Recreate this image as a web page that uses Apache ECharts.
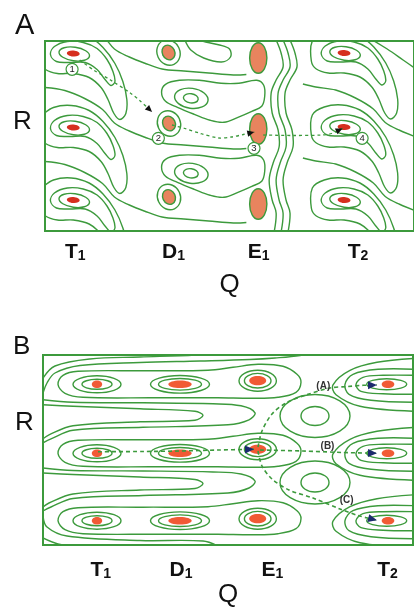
<!DOCTYPE html>
<html><head><meta charset="utf-8">
<script src="https://cdn.jsdelivr.net/npm/echarts@6.0.0/dist/echarts.min.js"></script>
<style>html,body{margin:0;padding:0;background:#fff}#chart{width:414px;height:612px}</style>
</head><body><div id="chart"></div>
<script>
const GREEN = '#3c9a3c';
const FONT = '"Liberation Sans", Arial, sans-serif';

// ================= Panel A (Q 0..372, R 0..190 measured downward) =================
const tickLabelsA = [['T','1'],['D','1'],['E','1'],['T','2']];
const tickQA = [30.5, 129.5, 215.5, 315.5];
const aT1 = [[28.5,12.5],[28.5,86.5],[28.5,159]];
const aT2 = [[301.5,12],[301.5,86],[301.5,159]];
const aD1 = [[124.5,11.5],[125,82.5],[125,156]];
const aE1 = [[215,17],[215,88],[215,163]];
const aNests = [[146.5,57.3],[146.5,132.3]];
// minimum marks: [rx, ry, rotation]
const aTMin = [6.5, 3, -5];
const aD1Min = [6.3, 7.6, 25];
const aE1Min = [8.7, 15.3, 0];
// closed rings (offset q, offset r, rx, ry, rotation)
const tRing = [1, 0.5, 15.5, 6.8, -8];
const d1Ring = [0, 0, 11.5, 13, 25];
const nestInner = [0.5, 0, 7.5, 4.6, -8];
const nestMid = [1, 0, 17, 10, -8];
// contour shapes read around a T minimum (offsets)
const tLoopB = [[-23,1],[-19,-7],[-6,-12],[10,-11],[24,-5],[34,6],[40,18],[42,28],[38,32],[32,26],[24,16],[12,9],[-4,9],[-17,8]];
const tLoopC = [[-32,-12],[-20,-20],[-2,-22],[16,-17],[30,-6],[42,10],[50,28],[54,46],[53,60],[47,66],[41,60],[35,46],[28,34],[16,24],[0,20],[-16,20],[-28,16],[-33,8]];
const nestOuter = [[-29,-6],[-25,-14],[-11,-18],[9,-18],[31,-15],[49,-15],[67,-18],[74,-13],[75,-2],[72,8],[62,13],[48,19],[34,24],[20,22],[4,16],[-13,9],[-25,3]];
// diagonal contours between bands (Q absolute, R offset from band)
const t1Diag = [[0,34],[20,37],[40,45],[58,56],[70,69.5],[85,77.5],[100,83.5],[118,89.5],[140,91.5],[165,93.5],[190,95.5],[203,95]];
const t1DiagBands = [-61.5, 12.5, 86.5];
const t2Diag = [[260,31],[273,34],[293,37],[313,45],[331,56],[343,69.5],[358,77.5],[373,83.5]];
const t2DiagBands = [12, 86];
const t2TopLine = [[330,-1],[345,8],[361,19],[374,28]];
const topTongue = [[141,-1],[147,9],[160,17],[178,21],[187,16],[186,8],[176,4],[162,1],[155,-1]];
const wavyLine = [[233,-1],[238,12],[240,26],[233,39],[228,52],[229,72],[235,89],[236,106],[230,122],[226,139],[229,159],[233,172],[231,191]];
const wavyShift = [0, 7, 14];
const pathsA = [
  [[35,19],[49,29],[66,39],[86,52],[96,60],[108,71]],
  [[128,84],[141,87.5],[157,92.5],[175,97],[188,96],[200,93.5],[211,91]],
  [[220,94],[250,94.5],[279,94],[289,92.5],[300,87.5]]
];
const markersA = [[27.3,28.3,'1'],[114.3,97.3,'2'],[210.7,107.3,'3'],[319.7,97.3,'4']];

// ================= Panel B (Q 0..370, R 0..190 measured downward) =================
const tickLabelsB = [['T','1'],['D','1'],['E','1'],['T','2']];
const tickQB = [57.7, 138, 229.5, 344.5];
const bRowR = [29.3, 98.3, 165.7];
const bE1R = [25.7, 94.3, 163.7];
const bT1Q = 54, bD1Q = 137, bE1Q = 214.7, bT2Q = 345, bT2RingQ = 343.7;
const bT1Dot = [5.2, 3.8], bD1Dot = [11.7, 3.8], bE1Dot = [8.5, 4.6], bT2Dot = [6.3, 3.8];
const bT1Rings = [[15,5],[24,8.5]];
const bD1Rings = [[21.5,5.8],[29.5,8.8]];
const bE1Rings = [[13.3,7.3],[18.7,10.5]];
const bT2Rings = [[20,5.5]];
const bMaxima = [[272,61],[272,127.5]];
const bMaxRings = [[14,9.5],[35,21.5]];
const bBandLoop = [[15,0],[20,-9],[35,-13],[100,-13.5],[165,-14],[190,-17],[215,-20],[240,-18],[254,-10],[258,-2],[253,8],[235,13],[210,14],[175,13.5],[110,13.5],[40,13],[22,9]];
const bGapMid = [63.8, 132];
const bFingerInner = [[0,-14],[30,-12.5],[97,-10],[152,-7.5],[160,-3.5],[152,1.5],[97,3],[30,7],[6,16],[0,20]];
const bFingerOuter = [[0,-19],[30,-16.5],[100,-16],[170,-15],[198,-13],[212,-6],[206,1],[185,6],[100,8.5],[30,11.5],[8,20],[0,24]];
const bTopLines = [
  [[0,23],[12,11],[47,4],[97,2],[152,0],[160,-2]],
  [[0,38],[4,28],[12,18],[37,10.5],[97,7.5],[157,6],[207,4.5],[232,3],[257,0.5],[270,-3]]
];
const bBottomLines = [
  [[0,161],[4,172],[24,181],[97,185.5],[160,186],[175,191]],
  [[0,183],[15,189],[40,192]]
];
const bRightHairpins = [
  [[372,-9],[340,-9],[320,-7],[313,0],[318,7],[340,9.5],[372,10]],
  [[372,-15],[335,-15],[310,-10],[302,0],[306,10],[328,16],[372,18]],
  [[372,-26],[334,-22],[307,-14],[290,0.5],[293,10.5],[317,22],[372,27]]
];
const pathsB = [
  [[55,96.7],[100,96.5],[137,96],[175,95],[211,94.3]],
  [[215,92],[219,76],[229,59],[243,48],[263,40],[287,33],[305,31.5],[320,30.3],[334,30]],
  [[217,95],[260,96],[300,97.5],[334,98.3]],
  [[215,96],[219,111],[229,124],[246,135],[270,143],[297,154],[315,160.5],[334,165.3]]
];
const pathLabelsB = [[280.3,30.8,'(A)'],[284.5,91.7,'(B)'],[303.7,145.3,'(C)']];

// ================= build lists =================
const shift = (pts, c) => pts.map(p => [c[0] + p[0], c[1] + p[1]]);
const contoursA = [];
aT1.forEach(c => { contoursA.push({pts: shift(tLoopB, c), closed: true}); contoursA.push({pts: shift(tLoopC, c), closed: false}); });
aT2.forEach(c => { contoursA.push({pts: shift(tLoopB, c), closed: true}); contoursA.push({pts: shift(tLoopC, c), closed: true}); });
aNests.forEach(c => contoursA.push({pts: shift(nestOuter, c), closed: true}));
t1DiagBands.forEach(y => contoursA.push({pts: t1Diag.map(p => [p[0], p[1] + y])}));
t2DiagBands.forEach(y => contoursA.push({pts: t2Diag.map(p => [p[0], p[1] + y])}));
contoursA.push({pts: t2TopLine});
contoursA.push({pts: topTongue});
wavyShift.forEach(d => contoursA.push({pts: wavyLine.map(p => [p[0] + d, p[1]])}));

const ringsA = [];
aT1.concat(aT2).forEach(c => ringsA.push([c[0] + tRing[0], c[1] + tRing[1], tRing[2], tRing[3], tRing[4]]));
aD1.forEach(c => ringsA.push([c[0] + d1Ring[0], c[1] + d1Ring[1], d1Ring[2], d1Ring[3], d1Ring[4]]));
aNests.forEach(c => [nestInner, nestMid].forEach(s => ringsA.push([c[0] + s[0], c[1] + s[1], s[2], s[3], s[4]])));
const redA = aT1.concat(aT2).map(c => [c[0], c[1], aTMin[0], aTMin[1], aTMin[2]]);
const salmonA = aD1.map(c => [c[0], c[1], aD1Min[0], aD1Min[1], aD1Min[2]])
  .concat(aE1.map(c => [c[0], c[1], aE1Min[0], aE1Min[1], aE1Min[2]]));

const contoursB = [];
bRowR.forEach(r => contoursB.push({pts: bBandLoop.map(p => [p[0], p[1] + r]), closed: true}));
bGapMid.forEach(m => {
  contoursB.push({pts: bFingerInner.map(p => [p[0], p[1] + m])});
  contoursB.push({pts: bFingerOuter.map(p => [p[0], p[1] + m])});
});
bTopLines.concat(bBottomLines).forEach(l => contoursB.push({pts: l}));
bRowR.forEach(r => bRightHairpins.forEach(h => contoursB.push({pts: h.map(p => [p[0], p[1] + r])})));

const ringsB = [];
bRowR.forEach((r, i) => {
  bT1Rings.forEach(s => ringsB.push([bT1Q, r, s[0], s[1], 0]));
  bD1Rings.forEach(s => ringsB.push([bD1Q, r, s[0], s[1], 0]));
  bE1Rings.forEach(s => ringsB.push([bE1Q, bE1R[i], s[0], s[1], 0]));
  bT2Rings.forEach(s => ringsB.push([bT2RingQ, r, s[0], s[1], 0]));
});
bMaxima.forEach(c => bMaxRings.forEach(s => ringsB.push([c[0], c[1], s[0], s[1], 0])));
const dotsB = [];
bRowR.forEach((r, i) => {
  dotsB.push([bT1Q, r, bT1Dot[0], bT1Dot[1], 0]);
  dotsB.push([bD1Q, r, bD1Dot[0], bD1Dot[1], 0]);
  dotsB.push([bE1Q, bE1R[i], bE1Dot[0], bE1Dot[1], 0]);
  dotsB.push([bT2Q, r, bT2Dot[0], bT2Dot[1], 0]);
});

// ================= series helpers =================
function contourSeries(g, list) {
  return {
    type: 'custom', xAxisIndex: g, yAxisIndex: g, clip: true, silent: true, z: 2,
    data: list.map((c, i) => [c.pts[0][0], c.pts[0][1], i]),
    renderItem: (params, api) => {
      const c = list[api.value(2)];
      const pts = c.pts.map(p => api.coord(p));
      return {type: c.closed ? 'polygon' : 'polyline', shape: {points: pts, smooth: 0.35},
        style: {stroke: GREEN, fill: 'none', lineWidth: 1.4}};
    }
  };
}
function ellipseSeries(g, list, style, z) {
  return {
    type: 'custom', xAxisIndex: g, yAxisIndex: g, clip: true, silent: true, z: z,
    data: list,
    renderItem: (params, api) => {
      const c = api.coord([api.value(0), api.value(1)]);
      const s = api.size([api.value(2), api.value(3)]);
      return {type: 'ellipse', x: c[0], y: c[1], rotation: api.value(4) * Math.PI / 180,
        shape: {cx: 0, cy: 0, rx: Math.abs(s[0]), ry: Math.abs(s[1])}, style: Object.assign({}, style)};
    }
  };
}
function pathSeries(g, list, st) {
  return {
    type: 'custom', xAxisIndex: g, yAxisIndex: g, clip: false, silent: true, z: 5,
    data: list.map((p, i) => [p[0][0], p[0][1], i]),
    renderItem: (params, api) => {
      const pts = list[api.value(2)].map(v => api.coord(v));
      const n = pts.length, a = pts[n - 1], b = pts[n - 2];
      const dx = a[0] - b[0], dy = a[1] - b[1], L = Math.hypot(dx, dy) || 1;
      const ux = dx / L, uy = dy / L;
      const bx = a[0] - ux * st.len, by = a[1] - uy * st.len;
      const head = [a, [bx - uy * st.half, by + ux * st.half], [bx + uy * st.half, by - ux * st.half]];
      return {type: 'group', children: [
        {type: 'polyline', shape: {points: pts, smooth: 0.3}, style: {stroke: GREEN, fill: 'none', lineWidth: st.width, lineDash: st.dash}},
        {type: 'polygon', shape: {points: head}, style: {fill: st.arrow}}
      ]};
    }
  };
}
function xAxisFor(g, max, ticks, labels, margin, nameGap) {
  return {
    gridIndex: g, type: 'value', min: 0, max: max,
    axisLine: {show: false}, axisTick: {show: false}, splitLine: {show: false},
    axisLabel: {
      customValues: ticks, margin: margin,
      formatter: (v) => { const i = ticks.findIndex(t => Math.abs(t - v) < 0.01); const l = labels[i] || ['', '']; return '{m|' + l[0] + '}{s|' + l[1] + '}'; },
      rich: {
        m: {fontSize: 21, fontWeight: 'bold', fontFamily: FONT, color: '#111', verticalAlign: 'bottom', lineHeight: 22},
        s: {fontSize: 14, fontWeight: 'bold', fontFamily: FONT, color: '#111', verticalAlign: 'bottom', lineHeight: 8}
      }
    },
    name: 'Q', nameLocation: 'middle', nameGap: nameGap,
    nameTextStyle: {fontSize: 26, fontFamily: FONT, color: '#111'}
  };
}
function yAxisFor(g) {
  return {
    gridIndex: g, type: 'value', min: 0, max: 190, inverse: true,
    axisLine: {show: false}, axisTick: {show: false}, axisLabel: {show: false}, splitLine: {show: false}
  };
}
const bigText = (t, left, top, size) => ({text: t, left: left, top: top, padding: 0,
  textStyle: {fontSize: size, fontWeight: 'normal', fontFamily: FONT, color: '#111'}});

const option = {
  animation: false,
  backgroundColor: '#fff',
  title: [
    bigText('A', 15, 11, 29),
    bigText('B', 13, 334, 26),
    bigText('R', 13, 109, 26),
    bigText('R', 15, 410, 26)
  ],
  grid: [
    {left: 45, top: 41, width: 372, height: 190, show: true, borderColor: GREEN, borderWidth: 2, backgroundColor: 'transparent'},
    {left: 43, top: 355, width: 370, height: 190, show: true, borderColor: GREEN, borderWidth: 2, backgroundColor: 'transparent'}
  ],
  xAxis: [xAxisFor(0, 372, tickQA, tickLabelsA, 10, 41), xAxisFor(1, 370, tickQB, tickLabelsB, 14, 35)],
  yAxis: [yAxisFor(0), yAxisFor(1)],
  series: [
    contourSeries(0, contoursA),
    ellipseSeries(0, ringsA, {fill: 'none', stroke: GREEN, lineWidth: 1.4}, 2),
    ellipseSeries(0, redA, {fill: '#d62f1f'}, 3),
    ellipseSeries(0, salmonA, {fill: '#e8845e', stroke: GREEN, lineWidth: 1.4}, 3),
    pathSeries(0, pathsA, {width: 1.3, dash: [3, 3], arrow: '#111', len: 7, half: 3.2}),
    {
      type: 'custom', xAxisIndex: 0, yAxisIndex: 0, clip: false, silent: true, z: 6,
      data: markersA,
      renderItem: (params, api) => {
        const c = api.coord([api.value(0), api.value(1)]);
        return {type: 'group', children: [
          {type: 'circle', shape: {cx: c[0], cy: c[1], r: 6}, style: {fill: '#fff', stroke: GREEN, lineWidth: 1.2}},
          {type: 'text', style: {text: String(markersA[params.dataIndex][2]), x: c[0], y: c[1] + 0.5, align: 'center', verticalAlign: 'middle', fontSize: 9.5, fontFamily: FONT, fill: '#222'}}
        ]};
      }
    },
    contourSeries(1, contoursB),
    ellipseSeries(1, ringsB, {fill: 'none', stroke: GREEN, lineWidth: 1.4}, 2),
    ellipseSeries(1, dotsB, {fill: '#f15a35'}, 3),
    pathSeries(1, pathsB, {width: 1.6, dash: [4, 3], arrow: '#1c2a6e', len: 9, half: 4}),
    {
      type: 'custom', xAxisIndex: 1, yAxisIndex: 1, clip: false, silent: true, z: 6,
      data: pathLabelsB,
      renderItem: (params, api) => {
        const c = api.coord([api.value(0), api.value(1)]);
        return {type: 'text', style: {text: pathLabelsB[params.dataIndex][2], x: c[0], y: c[1], align: 'center', verticalAlign: 'middle', fontSize: 10, fontWeight: 'bold', fontFamily: FONT, fill: '#333'}};
      }
    }
  ]
};
const chart = echarts.init(document.getElementById('chart'));
chart.setOption(option);
</script></body></html>
